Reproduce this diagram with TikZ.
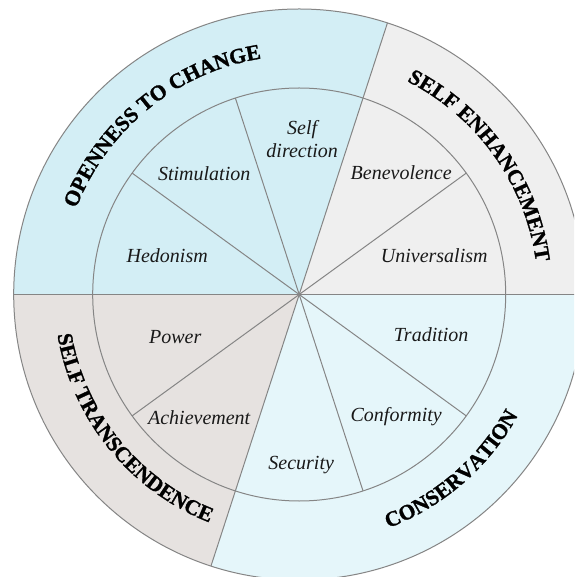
\documentclass[tikz,border=0pt]{standalone}
\usepackage{fontspec}
\setmainfont{Liberation Serif}
\newfontface\ringface{Liberation Serif Bold}[FakeBold=1.2]
\usetikzlibrary{decorations.text}
\definecolor{openc}{HTML}{D3EEF5}
\definecolor{enhc}{HTML}{EFEFEF}
\definecolor{transc}{HTML}{E6E2E0}
\definecolor{consc}{HTML}{E5F6FA}
\definecolor{linec}{HTML}{858585}
\newcommand\ringfont{\fontsize{21.5}{24}\selectfont\ringface}
\tikzset{
  ln/.style={draw=linec, line width=1pt},
  lbl/.style={font=\fontsize{20}{23}\selectfont\itshape, text=black!90, inner sep=0pt, align=center},
  ringtext/.style={decorate, decoration={text along path, text align=center, text={|\ringfont|#1}}}
}
\begin{document}
\begin{tikzpicture}[x=1pt,y=1pt]
\useasboundingbox (-299.2,-282.5) rectangle (274.8,294.5);
\clip (-299.2,-282.5) rectangle (274.8,294.5);
\fill[white] (-299.2,-282.5) rectangle (274.8,294.5);
\def\R{285.5}
\def\r{206.5}
\coordinate (O) at (0,0);
% outer sectors
\fill[openc] (O) -- (72:\R) arc[start angle=72, end angle=180, radius=\R] -- cycle;
\fill[enhc] (O) -- (0:\R) arc[start angle=0, end angle=72, radius=\R] -- cycle;
\fill[transc] (O) -- (180:\R) arc[start angle=180, end angle=252, radius=\R] -- cycle;
\fill[consc] (O) -- (252:\R) arc[start angle=252, end angle=360, radius=\R] -- cycle;
% lines
\draw[ln] (O) circle[radius=\R];
\draw[ln] (O) circle[radius=\r];
\draw[ln] (180:\R) -- (0:\R);
\draw[ln] (252:\R) -- (72:\R);
\foreach \a in {36,108,144} {
  \draw[ln] (\a:\r) -- (\a+180:\r);
}
% inner labels
\node[lbl] (hed) at (-132,38.5) {Hedonism};
\node[lbl] (sti) at (-95,120.5) {Stimulation};
\node[lbl] (sdi) at (3,155) {Self\\direction};
\node[lbl] (ben) at (102,121.5) {Benevolence};
\node[lbl] (uni) at (135,38.5) {Universalism};
\node[lbl] (tra) at (132,-40.5) {Tradition};
\node[lbl] (con) at (97,-122.5) {Conformity};
\node[lbl] (sec) at (2,-170.5) {Security};
\node[lbl] (ach) at (-100,-123.5) {Achievement};
\node[lbl] (pow) at (-124,-42.5) {Power};
% ring labels
\path[ringtext={OPENNESS TO CHANGE}] (175:239) arc[start angle=175, end angle=83, radius=239];
\path[ringtext={SELF ENHANCEMENT}] (81:239) arc[start angle=81, end angle=-10, radius=239];
\path[ringtext={SELF TRANSCENDENCE}] (173:245) arc[start angle=173, end angle=265, radius=245];
\path[ringtext={CONSERVATION}] (265:250) arc[start angle=265, end angle=357, radius=250];
\end{tikzpicture}
\end{document}
